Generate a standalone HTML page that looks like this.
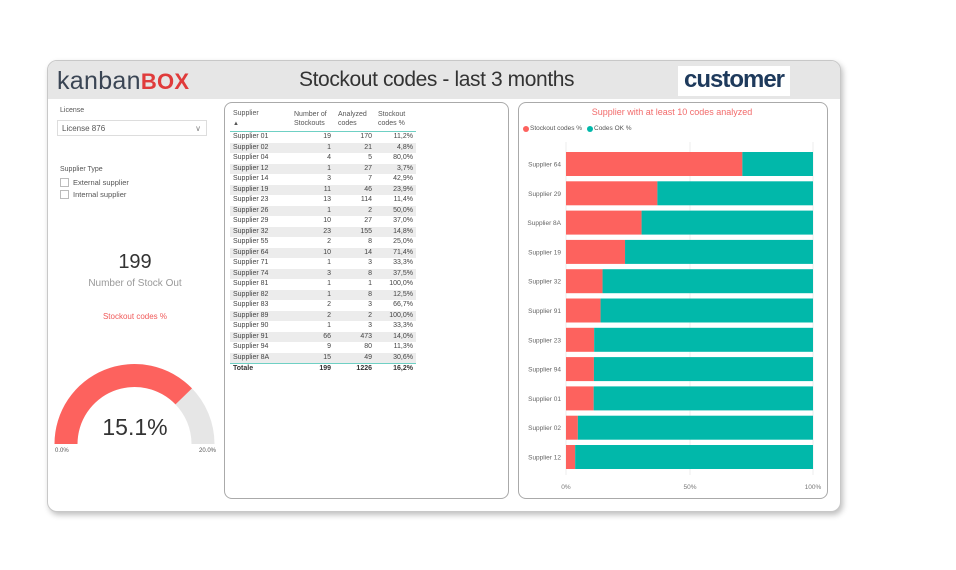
<!DOCTYPE html>
<html><head><meta charset="utf-8"><style>
body{margin:0;width:956px;height:570px;background:#fff;font-family:"Liberation Sans",sans-serif;position:relative;overflow:hidden}
.card{position:absolute;left:47px;top:60px;width:792px;height:450px;border:1px solid #c8c8c8;border-radius:10px;box-shadow:2px 3px 6px rgba(0,0,0,.25);background:#fff;overflow:hidden}
.hdr{position:absolute;left:0;top:0;width:100%;height:38px;background:#e6e6e6}
.abs{position:absolute}
.panel{position:absolute;border:1px solid #aaa;border-radius:8px;background:#fff}
table{border-collapse:collapse;font-size:7px;color:#444}
td{height:10.5px;padding:0;line-height:10.5px}
.t{position:absolute;font-size:7px;color:#555;white-space:nowrap}
</style></head><body>
<div class="card">
<div class="hdr"></div>
<div class="abs" style="left:9px;top:6px;font-size:25px;color:#3a4554;letter-spacing:0.3px">kanban<span style="color:#e03b3b;font-weight:bold;font-size:22px">BOX</span></div>
<div class="abs" style="left:251px;top:7px;font-size:21px;color:#333;letter-spacing:-0.4px">Stockout codes - last 3 months</div>
<div class="abs" style="left:630px;top:5px;width:112px;height:30px;background:#fff;color:#1e3a5c;font-weight:bold;font-size:24px;text-align:center;line-height:28px;letter-spacing:-1px">customer</div>
</div>
<div class="t" style="left:60px;top:107px">License</div>
<div class="abs" style="left:57px;top:120px;width:150px;height:16px;border:1px solid #ddd;font-size:8px;color:#555;line-height:16px;padding-left:4px;box-sizing:border-box">License 876<span style="position:absolute;right:5px;color:#888">∨</span></div>
<div class="t" style="left:60px;top:166px">Supplier Type</div>
<div class="abs" style="left:60px;top:178px;width:7px;height:7px;border:1px solid #bbb"></div>
<div class="t" style="left:73px;top:178px;font-size:7.5px">External supplier</div>
<div class="abs" style="left:60px;top:190px;width:7px;height:7px;border:1px solid #bbb"></div>
<div class="t" style="left:73px;top:190px;font-size:7.5px">Internal supplier</div>
<div class="abs" style="left:60px;top:251px;width:150px;text-align:center;font-size:20px;color:#333">199</div>
<div class="abs" style="left:60px;top:278px;width:150px;text-align:center;font-size:10px;color:#999">Number of Stock Out</div>
<div class="abs" style="left:60px;top:312px;width:150px;text-align:center;font-size:8px;color:#f05a5a">Stockout codes %</div>
<svg class="abs" style="left:0;top:0" width="956" height="570">
<path d="M54.5 444 A80 80 0 0 1 214.5 444 L191.5 444 A57 57 0 0 0 77.5 444 Z" fill="#e6e6e6"/>
<path d="M54.5 444 A80 80 0 0 1 192 388.4 L175.5 404.4 A57 57 0 0 0 77.5 444 Z" fill="#fd625e"/>
</svg>
<div class="abs" style="left:95px;top:414px;width:80px;text-align:center;font-size:23px;color:#333">15.1%</div>
<div class="t" style="left:55px;top:448px;font-size:6px">0.0%</div>
<div class="t" style="left:199px;top:448px;font-size:6px">20.0%</div>

<div class="panel" style="left:224px;top:102px;width:283px;height:395px"></div>
<div class="t" style="left:233px;top:110px">Supplier</div>
<div class="t" style="left:233px;top:121px;font-size:6px">▲</div>
<div class="t" style="left:294px;top:110px;line-height:9px">Number of<br>Stockouts</div>
<div class="t" style="left:338px;top:110px;line-height:9px">Analyzed<br>codes</div>
<div class="t" style="left:378px;top:110px;line-height:9px">Stockout<br>codes %</div>
<div class="abs" style="left:230px;top:131px;width:186px;height:1px;background:#6fd0c4"></div>
<table class="abs" style="left:230px;top:132px;width:186px">
<colgroup><col style="width:62px"><col style="width:39px"><col style="width:41px"><col style="width:44px"></colgroup>
<tbody id="tb"></tbody></table>
<div class="abs" style="left:230px;top:363px;width:186px;height:1px;background:#6fd0c4"></div>
<table class="abs" style="left:230px;top:364px;width:186px;font-weight:bold;color:#333">
<colgroup><col style="width:62px"><col style="width:39px"><col style="width:41px"><col style="width:44px"></colgroup>
<tr><td style="padding-left:3px">Totale</td><td align="right">199</td><td align="right">1226</td><td align="right" style="padding-right:3px">16,2%</td></tr></table>

<div class="panel" style="left:518px;top:102px;width:308px;height:395px"></div>
<div class="abs" style="left:518px;top:107px;width:308px;text-align:center;font-size:9px;color:#f26b6b">Supplier with at least 10 codes analyzed</div>
<div class="abs" style="left:523px;top:126px;width:6px;height:6px;border-radius:50%;background:#fd625e"></div>
<div class="t" style="left:530px;top:125px;font-size:6.5px">Stockout codes %</div>
<div class="abs" style="left:587px;top:126px;width:6px;height:6px;border-radius:50%;background:#01b8aa"></div>
<div class="t" style="left:594px;top:125px;font-size:6.5px">Codes OK %</div>
<svg class="abs" style="left:0;top:0" width="956" height="570" id="ch"></svg>
<script>
var d=[["Supplier 01",19,170,"11,2%"],["Supplier 02",1,21,"4,8%"],["Supplier 04",4,5,"80,0%"],["Supplier 12",1,27,"3,7%"],["Supplier 14",3,7,"42,9%"],["Supplier 19",11,46,"23,9%"],["Supplier 23",13,114,"11,4%"],["Supplier 26",1,2,"50,0%"],["Supplier 29",10,27,"37,0%"],["Supplier 32",23,155,"14,8%"],["Supplier 55",2,8,"25,0%"],["Supplier 64",10,14,"71,4%"],["Supplier 71",1,3,"33,3%"],["Supplier 74",3,8,"37,5%"],["Supplier 81",1,1,"100,0%"],["Supplier 82",1,8,"12,5%"],["Supplier 83",2,3,"66,7%"],["Supplier 89",2,2,"100,0%"],["Supplier 90",1,3,"33,3%"],["Supplier 91",66,473,"14,0%"],["Supplier 94",9,80,"11,3%"],["Supplier 8A",15,49,"30,6%"]];
var h="";d.forEach(function(r,i){h+='<tr style="background:'+(i%2?'#ececec':'#fff')+'"><td style="padding-left:3px">'+r[0]+'</td><td align="right">'+r[1]+'</td><td align="right">'+r[2]+'</td><td align="right" style="padding-right:3px">'+r[3]+'</td></tr>'});
document.getElementById("tb").innerHTML=h;
var b=[["Supplier 64",71.4],["Supplier 29",37],["Supplier 8A",30.6],["Supplier 19",23.9],["Supplier 32",14.8],["Supplier 91",14],["Supplier 23",11.4],["Supplier 94",11.3],["Supplier 01",11.2],["Supplier 02",4.8],["Supplier 12",3.7]];
var s='<line x1="566" y1="142" x2="566" y2="475" stroke="#eee"/><line x1="690" y1="142" x2="690" y2="475" stroke="#eee"/><line x1="813" y1="142" x2="813" y2="475" stroke="#eee"/>';
b.forEach(function(r,i){var y=164+i*29.3,w=247*r[1]/100;
s+='<rect x="566" y="'+(y-12)+'" width="'+w+'" height="24" fill="#fd625e"/><rect x="'+(566+w)+'" y="'+(y-12)+'" width="'+(247-w)+'" height="24" fill="#01b8aa"/>';
s+='<text x="561" y="'+(y+2.5)+'" font-size="6.5" fill="#666" text-anchor="end" font-family="Liberation Sans">'+r[0]+'</text>';});
[["0%",566],["50%",690],["100%",813]].forEach(function(t){s+='<text x="'+t[1]+'" y="489" font-size="6.5" fill="#777" text-anchor="middle" font-family="Liberation Sans">'+t[0]+'</text>'});
document.getElementById("ch").innerHTML=s;
</script>
</body></html>
